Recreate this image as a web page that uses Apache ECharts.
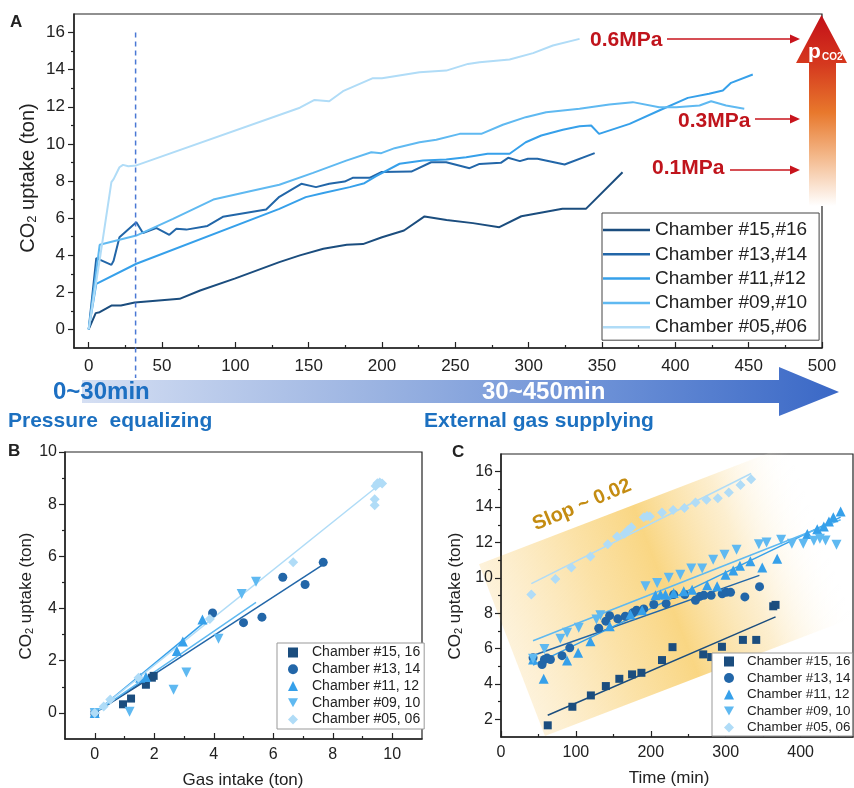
<!DOCTYPE html>
<html>
<head>
<meta charset="utf-8">
<script src="https://cdn.jsdelivr.net/npm/echarts@6.0.0/dist/echarts.min.js"></script>
<style>
html, body { margin: 0; padding: 0; background: #fff; }
#main { width: 854px; height: 788px; }
</style>
</head>
<body>
<div id="main"></div>
<script>
var FONT = '"Liberation Sans", Arial, sans-serif';

// colours, dark -> light
var colors = ['#1b4d7e', '#2266a8', '#36a0ea', '#5fb9f1', '#b0dcf7'];

// ---- panel A : uptake vs time ----
var aNames = ['Chamber #15,#16', 'Chamber #13,#14', 'Chamber #11,#12', 'Chamber #09,#10', 'Chamber #05,#06'];
var aCh1516 = [[0,0],[4.8,0.88],[7.5,0.93],[15.5,1.29],[22,1.29],[31.4,1.45],[62,1.65],[76,2.1],[100,2.75],[130,3.63],[144,3.99],[160,4.35],[176,4.56],[187,4.6],[200,4.97],[215,5.33],[229,6.09],[244,5.9],[262,5.73],[280,5.51],[295,6.1],[310,6.32],[323,6.5],[339,6.5],[364,8.47]];
var aCh1314 = [[0,0],[5.2,3.84],[15.5,3.48],[17,3.7],[21,4.97],[32.5,5.78],[37,5.2],[46,5.47],[55,5.1],[59.8,5.43],[66.6,5.38],[81,5.58],[91.5,6.07],[121,6.46],[130,7.15],[145,7.85],[155,7.67],[164,7.85],[174.5,7.97],[180,8.17],[191.5,8.17],[199.5,8.48],[220,8.51],[233.5,9.01],[243.8,9.01],[259.7,8.69],[266.5,8.92],[281,8.98],[286,9.25],[294,9.07],[299.5,9.2],[306,9.2],[324.5,8.89],[345,9.5]];
var aCh1112 = [[0,0],[5.2,2.46],[32.5,3.54],[130,6.5],[148,7.13],[160,7.35],[178,7.67],[188,7.88],[196,8.26],[212,8.93],[228,9.1],[243.8,9.16],[257.4,9.28],[272,9.47],[287,9.47],[298,10.09],[308.6,10.45],[323.3,10.76],[334.7,10.95],[342.6,10.99],[348,10.54],[368.8,11.08],[389,11.8],[408.5,12.48],[423,12.7],[432.4,12.88],[438,13.29],[452.8,13.74]];
var aCh0910 = [[0,0],[7.5,4.56],[32.5,5.06],[57.5,5.96],[85,7.0],[110,7.45],[130,7.8],[153,8.44],[175.6,9.1],[192.7,9.55],[199.5,9.5],[208.6,9.77],[225.6,10.09],[237,10.22],[253,10.54],[267.7,10.54],[282.4,11.03],[298,11.44],[311.9,11.71],[334.7,11.89],[355,12.12],[371,12.25],[389,11.98],[400.6,11.98],[416.5,12.07],[424.4,12.3],[434.6,12.07],[447,11.89]];
var aCh0506 = [[0,0],[8,4.0],[15.5,7.94],[17,8.1],[21,8.74],[23.4,8.87],[27,8.8],[32.5,8.84],[144,11.95],[154,12.37],[164,12.3],[173.4,12.84],[193.8,13.54],[200,13.54],[225.6,13.86],[243.8,13.95],[258.6,14.31],[266.5,14.4],[287,14.55],[303,14.89],[316.5,15.3],[334.7,15.66]];
var aSeries = [aCh1516, aCh1314, aCh1112, aCh0910, aCh0506];
var aXTicks = [0, 50, 100, 150, 200, 250, 300, 350, 400, 450, 500];
var aXMinor = [25, 75, 125, 175, 225, 275, 325, 375, 425, 475];
var aYTicks = [0, 2, 4, 6, 8, 10, 12, 14, 16];
var aYMinor = [1, 3, 5, 7, 9, 11, 13, 15];
var switchTime = 32;

// ---- panel B : uptake vs gas intake ----
var sNames = ['Chamber #15, 16', 'Chamber #13, 14', 'Chamber #11, 12', 'Chamber #09, 10', 'Chamber #05, 06'];
var bCh1516 = [[0,0],[0.95,0.33],[1.22,0.55],[1.72,1.08],[1.92,1.35],[1.98,1.42]];
var bCh1314 = [[0,0],[3.96,3.83],[5.0,3.46],[5.62,3.67],[6.32,5.2],[7.07,4.92],[7.68,5.77]];
var bCh1112 = [[0,0],[1.53,1.35],[1.72,1.38],[2.76,2.37],[2.96,2.74],[3.62,3.58]];
var bCh0910 = [[0,0],[1.17,0.04],[2.65,0.89],[3.08,1.55],[4.16,2.84],[4.94,4.56],[5.42,5.03]];
var bCh0506 = [[0,0],[0.3,0.25],[0.52,0.51],[1.47,1.35],[3.87,3.6],[6.67,5.77],[9.41,7.96],[9.41,8.19],[9.44,8.7],[9.5,8.8],[9.58,8.83],[9.66,8.79]];
var bFits = [
  [[0,0],[1.98,1.42]],
  [[0,0],[7.7,5.7]],
  [[0,0],[3.62,3.41]],
  [[0,0],[5.42,4.24]],
  [[0,0],[9.66,8.83]]
];
var bSeries = [bCh1516, bCh1314, bCh1112, bCh0910, bCh0506];
var bXTicks = [0, 2, 4, 6, 8, 10];
var bXMinor = [1, 3, 5, 7, 9];
var bYTicks = [0, 2, 4, 6, 8, 10];
var bYMinor = [1, 3, 5, 7, 9];

// ---- panel C : uptake vs time, fitted ----
var cCh1516 = [[62.4,1.66],[95.3,2.71],[120,3.35],[140,3.88],[158,4.29],[175,4.54],[187.5,4.63],[215,5.35],[229,6.08],[270,5.67],[280.6,5.52],[295,6.1],[323,6.49],[340.8,6.49],[363.5,8.39],[366.6,8.47]];
var cCh1314 = [[42.8,5.48],[54.8,5.1],[58,5.38],[61.5,5.46],[66,5.38],[81.5,5.6],[91.8,6.04],[130.5,7.15],[140,7.55],[145,7.86],[155.9,7.68],[166,7.83],[176,8.02],[181,8.17],[190.6,8.24],[204,8.49],[220.5,8.54],[230.6,9.05],[245.4,9.05],[259.7,8.73],[265.5,8.95],[270.8,9.01],[280.6,9.01],[295.3,9.1],[300.7,9.18],[306.5,9.18],[325.6,8.92],[345.2,9.5]];
var cCh1112 = [[42.8,5.38],[57,4.29],[88.2,5.33],[103,5.76],[119.4,6.42],[145.2,7.26],[172.8,7.92],[188.4,8.17],[206.2,9.01],[213,9.05],[219.6,9.05],[230.6,9.14],[244,9.24],[255.2,9.33],[275.3,9.58],[288.6,9.52],[299.8,10.18],[310,10.42],[319,10.68],[333,10.93],[348.8,10.59],[368.8,11.08],[409,12.47],[422.3,12.75],[431,12.9],[437.9,13.18],[443.7,13.43],[453.5,13.75]];
var cCh0910 = [[42.8,5.42],[58,5.98],[79.3,6.55],[88.2,6.89],[103.8,7.17],[127.4,7.64],[132.7,7.88],[192.9,9.52],[208.5,9.71],[224,10.0],[239.4,10.18],[254,10.52],[268.6,10.52],[283.3,11.02],[298.4,11.3],[314.5,11.59],[344.3,11.9],[354.6,12.0],[374,12.15],[388.4,11.92],[403.6,11.92],[417.8,12.1],[425.8,12.21],[433.4,12.11],[448,11.87]];
var cCh0506 = [[40.5,9.05],[72.6,9.93],[94,10.59],[119.4,11.21],[142.5,11.9],[155,12.34],[164.8,12.49],[169.7,12.71],[174.2,12.86],[190.6,13.43],[195,13.5],[198.7,13.47],[215,13.69],[229.8,13.84],[244.9,13.94],[259.7,14.26],[274.4,14.41],[289.5,14.5],[304.2,14.82],[319.8,15.25],[334,15.57]];
var cFits = [
  [[62.4,2.23],[366.6,7.79]],
  [[42.8,5.61],[345,10.14]],
  [[42.8,5.06],[453.5,13.43]],
  [[42.8,6.44],[453.5,13.28]],
  [[40.5,9.67],[334,15.9]]
];
var cSeries = [cCh1516, cCh1314, cCh1112, cCh0910, cCh0506];
var cXTicks = [0, 100, 200, 300, 400];
var cXMinor = [50, 150, 250, 350, 450];
var cYTicks = [2, 4, 6, 8, 10, 12, 14, 16];
var cYMinor = [3, 5, 7, 9, 11, 13, 15];

var symbols = ['rect', 'circle', 'triangle', 'path://M0,0 L10,0 L5,9 Z', 'diamond'];
var symbolSizes = [8, 9, 10, 10, 10];

var chart = echarts.init(document.getElementById('main'));

// main axis with labels + major ticks, and a twin carrying only the minor ticks
function axisPair(grid, min, max, major, minor, inside, pos, fs, margin) {
  var main = {
    type: 'value', gridIndex: grid, min: min, max: max, position: pos,
    axisLine: { show: true, onZero: false, lineStyle: { color: '#222', width: 1.5 } },
    axisTick: { show: true, inside: inside, length: 6, customValues: major, lineStyle: { color: '#222', width: 1.2 } },
    axisLabel: { show: true, customValues: major, color: '#222', fontSize: fs, fontFamily: FONT, margin: margin },
    splitLine: { show: false }
  };
  var sub = {
    type: 'value', gridIndex: grid, min: min, max: max, position: pos,
    axisLine: { show: false, onZero: false },
    axisTick: { show: true, inside: inside, length: 3, customValues: minor, lineStyle: { color: '#222', width: 1.2 } },
    axisLabel: { show: false },
    splitLine: { show: false }
  };
  return [main, sub];
}

var xAxes = [].concat(
  axisPair(0, -10, 500, aXTicks, aXMinor, true, 'bottom', 17, 10),
  axisPair(1, -1, 11, bXTicks, bXMinor, true, 'bottom', 16, 8),
  axisPair(2, 0, 470, cXTicks, cXMinor, true, 'bottom', 16, 8)
);
var yAxes = [].concat(
  axisPair(0, -1, 17, aYTicks, aYMinor, false, 'left', 17, 9),
  axisPair(1, -1, 10, bYTicks, bYMinor, false, 'left', 16, 8),
  axisPair(2, 1, 17, cYTicks, cYMinor, false, 'left', 16, 8)
);

var series = [];
aSeries.forEach(function (d, i) {
  series.push({
    type: 'line', name: aNames[i], xAxisIndex: 0, yAxisIndex: 0, data: d,
    symbol: 'none', showSymbol: false, z: 3,
    itemStyle: { color: colors[i] },
    lineStyle: { color: colors[i], width: 2 }
  });
});
bSeries.forEach(function (d, i) {
  series.push({
    type: 'line', name: 'fitB' + i, xAxisIndex: 2, yAxisIndex: 2, data: bFits[i],
    symbol: 'none', z: 2, lineStyle: { color: colors[i], width: 1.5 }
  });
});
bSeries.forEach(function (d, i) {
  series.push({
    type: 'scatter', name: sNames[i], xAxisIndex: 2, yAxisIndex: 2, data: d,
    symbol: symbols[i], symbolSize: symbolSizes[i], z: 3,
    itemStyle: { color: colors[i], opacity: 1 }
  });
});
cSeries.forEach(function (d, i) {
  series.push({
    type: 'line', name: 'fitC' + i, xAxisIndex: 4, yAxisIndex: 4, data: cFits[i],
    symbol: 'none', z: 2, lineStyle: { color: colors[i], width: 1.5 }
  });
});
cSeries.forEach(function (d, i) {
  series.push({
    type: 'scatter', name: sNames[i], xAxisIndex: 4, yAxisIndex: 4, data: d,
    symbol: symbols[i], symbolSize: symbolSizes[i], z: 3,
    itemStyle: { color: colors[i], opacity: 1 }
  });
});

var legendText = function (fs, lh, padLeft) {
  return { fontSize: fs, fontFamily: FONT, color: '#222', lineHeight: lh, padding: [0, 0, 0, padLeft || 0] };
};

chart.setOption({
  animation: false,
  grid: [
    { left: 74, top: 14, width: 748, height: 334, show: true, borderColor: '#222', borderWidth: 1.2 },
    { left: 65, top: 452, width: 357, height: 287, show: true, borderColor: '#222', borderWidth: 1.2 },
    { left: 501, top: 454, width: 352, height: 283, show: true, borderColor: '#222', borderWidth: 1.2 }
  ],
  xAxis: xAxes,
  yAxis: yAxes,
  legend: [
    {
      data: aNames, orient: 'vertical', left: 602, top: 213, icon: 'rect',
      itemWidth: 47, itemHeight: 2.5, itemGap: 4.3, padding: [7, 12, 3, 1],
      backgroundColor: '#fff', borderColor: '#444', borderWidth: 1,
      textStyle: legendText(19, 20), selectedMode: false
    },
    {
      data: sNames, orient: 'vertical', left: 277, top: 643,
      itemWidth: 10, itemHeight: 10, itemGap: 1.75, padding: [2, 4, 2, 11],
      backgroundColor: '#fff', borderColor: '#999', borderWidth: 1,
      textStyle: legendText(14, 15, 9), selectedMode: false
    },
    {
      data: sNames, orient: 'vertical', left: 712, top: 653,
      itemWidth: 10, itemHeight: 10, itemGap: 1.5, padding: [1, 2, 1, 12],
      backgroundColor: '#fff', borderColor: '#999', borderWidth: 1,
      textStyle: legendText(13.4, 15, 8), selectedMode: false
    }
  ],
  series: series
});

// annotations
function txt(x, y, text, opt) {
  var st = {
    text: text, fill: opt.fill || '#222',
    font: (opt.weight || 'normal') + ' ' + opt.size + 'px ' + FONT,
    align: opt.align || 'left', textAlign: opt.align || 'left',
    verticalAlign: 'middle', textVerticalAlign: 'middle'
  };
  if (opt.rich) st.rich = opt.rich;
  return { type: 'text', x: x, y: y, rotation: opt.rotation || 0, z: opt.z || 20, style: st };
}

function co2Rich(fs) {
  return {
    a: { fontSize: fs, fontFamily: FONT, fill: '#222' },
    s: { fontSize: Math.round(fs * 0.65), fontFamily: FONT, fill: '#222', padding: [Math.round(fs * 0.45), 0, 0, 0] }
  };
}

function redArrow(x1, x2, y) {
  return [
    { type: 'line', z: 30, shape: { x1: x1, y1: y, x2: x2 - 8, y2: y }, style: { stroke: '#c8141c', lineWidth: 1.6 } },
    { type: 'polygon', z: 30, shape: { points: [[x2 - 10, y - 4.5], [x2, y], [x2 - 10, y + 4.5]] }, style: { fill: '#c8141c' } }
  ];
}

var dashTop = chart.convertToPixel({ xAxisIndex: 0, yAxisIndex: 0 }, [switchTime, 16]);

var graphics = [
  // dashed switch line
  { type: 'line', z: 25, shape: { x1: dashTop[0], y1: dashTop[1], x2: dashTop[0], y2: 378 },
    style: { stroke: '#4a78d4', lineWidth: 1.5, lineDash: [5, 4] } },

  // time arrow under panel A
  { type: 'polygon', z: 10,
    shape: { points: [[82, 380], [779, 380], [779, 367], [839, 392], [779, 416], [779, 403], [82, 403]] },
    style: { fill: new echarts.graphic.LinearGradient(0, 0, 1, 0, [
      { offset: 0, color: '#d5dff3' }, { offset: 0.4, color: '#99b2e1' },
      { offset: 0.7, color: '#6a8fd6' }, { offset: 1, color: '#3a68c6' }]) } },
  txt(53, 392, '0~30min', { size: 24, weight: 'bold', fill: '#1c6fc2', z: 26 }),
  txt(482, 392, '30~450min', { size: 24, weight: 'bold', fill: '#ffffff', z: 26 }),
  txt(8, 421, 'Pressure  equalizing', { size: 21, weight: 'bold', fill: '#1c70c0' }),
  txt(424, 421, 'External gas supplying', { size: 21, weight: 'bold', fill: '#1c70c0' }),

  // pressure arrow
  { type: 'rect', z: 30, shape: { x: 809, y: 62, width: 27, height: 144 },
    style: { fill: new echarts.graphic.LinearGradient(0, 0, 0, 1, [
      { offset: 0, color: '#d4361e' }, { offset: 0.35, color: '#e8782c' },
      { offset: 0.65, color: '#f3b789' }, { offset: 1, color: '#ffffff' }]) } },
  { type: 'polygon', z: 31, shape: { points: [[796, 63], [847, 63], [821.5, 15]] },
    style: { fill: new echarts.graphic.LinearGradient(0, 0, 0, 1, [
      { offset: 0, color: '#c20f18' }, { offset: 1, color: '#d6381e' }]) } },
  txt(808, 52, 'p', { size: 21, weight: 'bold', fill: '#ffffff', z: 32 }),
  txt(822, 57, 'CO2', { size: 10, weight: 'bold', fill: '#ffffff', z: 32 }),
  txt(590, 40, '0.6MPa', { size: 21, weight: 'bold', fill: '#c0141c' }),
  txt(678, 121, '0.3MPa', { size: 21, weight: 'bold', fill: '#c0141c' }),
  txt(652, 168, '0.1MPa', { size: 21, weight: 'bold', fill: '#c0141c' }),

  // yellow band in C
  { type: 'rect', z: 0, x: 666, y: 591, rotation: 21 * Math.PI / 180,
    shape: { x: -165, y: -92, width: 330, height: 184 },
    style: { fill: new echarts.graphic.LinearGradient(0, 0, 1, 0, [
      { offset: 0, color: 'rgba(250,218,150,0.35)' }, { offset: 0.3, color: 'rgba(249,210,120,0.65)' },
      { offset: 0.5, color: 'rgba(248,204,100,0.8)' }, { offset: 0.75, color: 'rgba(250,222,160,0.5)' },
      { offset: 1, color: 'rgba(255,255,255,0)' }]) } },
  txt(582, 505, 'Slop ~ 0.02', { size: 20, weight: 'bold', fill: '#c48c12', align: 'center', rotation: 23 * Math.PI / 180, z: 1 }),

  // panel letters
  txt(10, 22, 'A', { size: 17, weight: 'bold' }),
  txt(8, 451, 'B', { size: 17, weight: 'bold' }),
  txt(452, 452, 'C', { size: 17, weight: 'bold' }),

  // axis names
  txt(28, 178, '{a|CO}{s|2}{a| uptake (ton)}', { size: 20, align: 'center', rotation: Math.PI / 2, rich: co2Rich(20) }),
  txt(26, 596, '{a|CO}{s|2}{a| uptake (ton)}', { size: 17, align: 'center', rotation: Math.PI / 2, rich: co2Rich(17) }),
  txt(455, 596, '{a|CO}{s|2}{a| uptake (ton)}', { size: 17, align: 'center', rotation: Math.PI / 2, rich: co2Rich(17) }),
  txt(243, 780, 'Gas intake (ton)', { size: 17, align: 'center' }),
  txt(669, 778, 'Time (min)', { size: 17, align: 'center' })
];
graphics = graphics.concat(redArrow(667, 800, 39), redArrow(755, 800, 119), redArrow(730, 800, 170));

chart.setOption({ graphic: graphics });
</script>
</body>
</html>
